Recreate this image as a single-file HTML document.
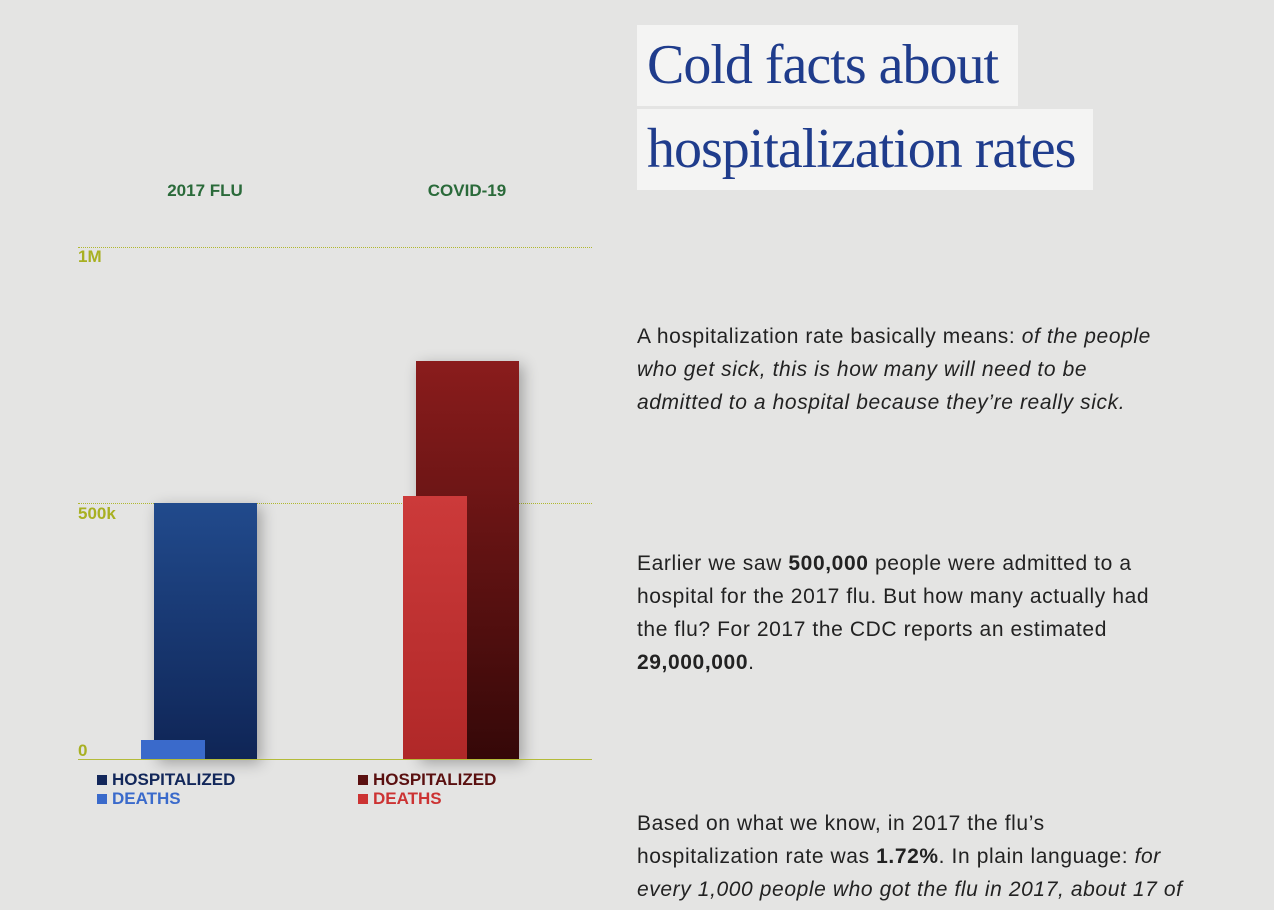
<!DOCTYPE html>
<html><head><meta charset="utf-8"><style>
body{margin:0;width:1274px;height:910px;overflow:hidden;background:#e4e4e3;font-family:"Liberation Sans",sans-serif;position:relative}
.a{position:absolute}
.tb{position:absolute;left:637px;background:#f4f4f3;color:#1f3c8c;font-family:"Liberation Serif",serif;font-size:56px;letter-spacing:-1px;padding-left:10px;box-sizing:border-box;line-height:81px}
.g{position:absolute;left:78px;width:514px;border-top:1px dotted #b0b830}
.yl{position:absolute;left:78px;color:#a8b022;font-size:17px;font-weight:bold}
.cat{position:absolute;color:#2a6a3a;font-weight:bold;font-size:17px;width:200px;text-align:center}
.p{position:absolute;left:637px;width:600px;font-size:21px;line-height:33px;color:#222;letter-spacing:0.6px}
.lg{position:absolute;font-size:17px;font-weight:bold;line-height:19px}
.sq{display:inline-block;width:10px;height:10px;margin-right:5px}
</style></head><body>
<div class="tb" style="top:25px;width:381px;height:81px">Cold facts about</div>
<div class="tb" style="top:109px;width:456px;height:81px">hospitalization rates</div>
<div class="cat" style="left:105px;top:181px">2017 FLU</div>
<div class="cat" style="left:367px;top:181px">COVID-19</div>
<div class="g" style="top:247px"></div>
<div class="g" style="top:503px"></div>
<div class="yl" style="top:247px">1M</div>
<div class="yl" style="top:504px">500k</div>
<div class="yl" style="top:741px">0</div>
<div class="a" style="left:154px;top:503px;width:103px;height:256px;background:linear-gradient(#214a8c,#0f2556);box-shadow:4px 4px 14px rgba(0,0,0,.3)"></div>
<div class="a" style="left:141px;top:740px;width:64px;height:19px;background:#3a6acb"></div>
<div class="a" style="left:416px;top:361px;width:103px;height:398px;background:linear-gradient(#8a1c1c,#350808);box-shadow:4px 4px 14px rgba(0,0,0,.3)"></div>
<div class="a" style="left:403px;top:496px;width:64px;height:263px;background:linear-gradient(#cc3a3a,#b02828)"></div>
<div class="a" style="left:78px;top:759px;width:514px;height:1px;background:#b4bb3a"></div>
<div class="lg" style="left:97px;top:770px"><div style="color:#12275a"><span class="sq" style="background:#12275a"></span>HOSPITALIZED</div><div style="color:#3a6acb"><span class="sq" style="background:#3a6acb"></span>DEATHS</div></div>
<div class="lg" style="left:358px;top:770px"><div style="color:#5a1010"><span class="sq" style="background:#5a1010"></span>HOSPITALIZED</div><div style="color:#cc3333"><span class="sq" style="background:#cc3333"></span>DEATHS</div></div>
<div class="p" style="top:320px">A hospitalization rate basically means: <i>of the people<br>who get sick, this is how many will need to be<br>admitted to a hospital because they’re really sick.</i></div>
<div class="p" style="top:547px">Earlier we saw <b>500,000</b> people were admitted to a<br>hospital for the 2017 flu. But how many actually had<br>the flu? For 2017 the CDC reports an estimated<br><b>29,000,000</b>.</div>
<div class="p" style="top:807px">Based on what we know, in 2017 the flu’s<br>hospitalization rate was <b>1.72%</b>. In plain language: <i>for<br>every 1,000 people who got the flu in 2017, about 17 of</i></div>
</body></html>
